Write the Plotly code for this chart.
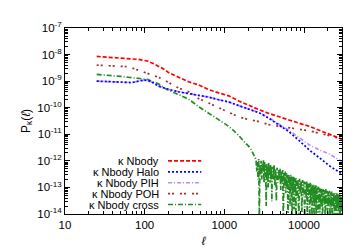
import plotly.graph_objects as go

# ---------------- data ----------------
ell_main = [25, 30, 40, 50, 62, 70, 83, 100, 111, 130, 149, 175, 200, 266, 356, 475,
            636, 850, 1135, 1516, 2030, 2710, 3630, 4850, 6470, 8700, 11600, 15600,
            20700, 30000]

p_nbody = [8.5e-9, 8.2e-9, 7.8e-9, 7.5e-9, 7.2e-9, 7.0e-9, 6.6e-9, 6.0e-9, 5.6e-9,
           4.5e-9, 3.7e-9, 2.8e-9, 2.1e-9, 1.4e-9, 9.5e-10, 7.2e-10, 4.8e-10, 3.6e-10,
           2.8e-10, 1.8e-10, 1.2e-10, 8.5e-11, 6.1e-11, 4.5e-11, 3.5e-11, 2.6e-11,
           2.0e-11, 1.4e-11, 1.0e-11, 6.5e-12]

p_halo = [1.0e-9, 9.8e-10, 9.4e-10, 8.8e-10, 8.5e-10, 8.8e-10, 1.0e-9, 1.1e-9, 1.05e-9,
          8.5e-10, 6.5e-10, 5.5e-10, 4.9e-10, 4.0e-10, 3.4e-10, 3.0e-10, 2.5e-10,
          2.0e-10, 1.65e-10, 1.2e-10, 9.0e-11, 6.5e-11, 4.0e-11, 2.3e-11, 1.25e-11,
          5.8e-12, 2.6e-12, 1.3e-12, 6.6e-13, 3.2e-13]

p_pih = [1.0e-9, 9.8e-10, 9.4e-10, 8.8e-10, 8.5e-10, 8.8e-10, 1.0e-9, 1.1e-9, 1.05e-9,
         8.5e-10, 6.5e-10, 5.5e-10, 4.9e-10, 4.0e-10, 3.4e-10, 3.0e-10, 2.5e-10,
         2.0e-10, 1.65e-10, 1.2e-10, 9.0e-11, 6.6e-11, 4.2e-11, 2.5e-11, 1.4e-11,
         7.5e-12, 4.0e-12, 2.6e-12, 1.8e-12, 9.5e-13]

p_poh = [4.0e-9, 3.9e-9, 3.8e-9, 3.7e-9, 3.5e-9, 3.1e-9, 2.6e-9, 2.2e-9, 1.9e-9,
         1.6e-9, 1.4e-9, 1.1e-9, 9.0e-10, 5.5e-10, 4.0e-10, 2.2e-10, 1.5e-10, 1.0e-10,
         6.5e-11, 4.5e-11, 3.6e-11, 3.0e-11, 2.3e-11, 2.0e-11, 1.8e-11, 1.5e-11,
         1.35e-11, 1.1e-11, 8.9e-12, 6.6e-12]

ell_cross = [25, 35, 50, 62, 80, 100, 111, 130, 149, 175, 200, 266, 356, 475, 636, 850,
             1000, 1135, 1300, 1516, 1800, 2030, 2200, 2400,
             2500, 2550, 2600, 2650, 2700, 2750, 2800, 2850, 2900, 2950,
             3000, 3050, 3100, 3150, 3200, 3250, 3300, 3350, 3400, 3450,
             3500, 3550, 3600, 3650, 3700, 3750, 3800, 3850, 3900, 3950,
             4000, 4100, 4200, 4300, 4400, 4500, 4600, 4700, 4800, 4900,
             5000, 5100, 5200, 5300, 5400, 5500, 5600, 5700, 5800, 5900,
             6000, 6100, 6200, 6300, 6400, 6500, 6600, 6700, 6800, 6900,
             7000, 7100, 7200, 7300, 7400, 7500, 7600, 7700, 7800, 7900,
             8000, 8200, 8400, 8600, 8800, 9000, 9200, 9400, 9600, 9800,
             10000, 10200, 10400, 10600, 10800, 11000, 11200, 11400, 11600, 11800,
             12000, 12200, 12400, 12600, 12800, 13000, 13200, 13400, 13600, 13800,
             14000, 14200, 14400, 14600, 14800, 15000, 15200, 15400, 15600, 15800,
             16000, 16350, 16700, 17050, 17400, 17750, 18100, 18450, 18800, 19150,
             19500, 19850, 20200, 20550, 20900, 21250, 21600, 21950, 22300, 22650,
             23000, 23350, 23700, 24050, 24400, 24750, 25100, 25450, 25800, 26150,
             26500, 26850, 27200, 27550, 27900, 28250, 28600, 28950, 29300, 29650,
             30000]

p_cross = [1.8e-9, 1.6e-9, 1.5e-9, 1.4e-9, 1.3e-9, 1.25e-9, 1.15e-9, 9.0e-10, 8.0e-10,
           5.5e-10, 4.6e-10, 3.2e-10, 2.1e-10, 1.1e-10, 6.1e-11, 3.5e-11,
           2.6e-11, 2.0e-11, 1.4e-11, 9.0e-12, 5.0e-12, 3.5e-12, 2.5e-12, 1.3e-12,
           1.1e-12, 4e-13, 9e-13, 2e-13, 1.2e-12, 5e-15, 7e-13, 3e-13, 1e-12, 2e-13,
           8e-13, 4e-13, 1.1e-12, 1.5e-13, 9e-13, 3e-13, 7e-13, 2e-14, 8e-13, 2.5e-13,
           6e-13, 1e-13, 9e-13, 3e-13, 6e-13, 1.5e-13, 7e-13, 2e-13, 5e-13, 3e-14,
           6e-13, 2e-13, 7e-13, 1.2e-13, 5e-13, 3e-14, 5.5e-13, 1.5e-13, 4.5e-13, 2e-13,
           5e-13, 8e-14, 4e-13, 1.5e-13, 4.5e-13, 5e-15, 3.5e-13, 1.2e-13, 4e-13, 6e-14,
           3.5e-13, 1e-13, 3e-13, 5e-15, 3.2e-13, 8e-14, 2.8e-13, 2e-14, 3e-13, 9e-14,
           2.6e-13, 5e-15, 2.5e-13, 6e-14, 2.7e-13, 1.5e-14, 2.3e-13, 7e-14, 2.2e-13, 5e-15,
           2.2e-13, 4e-14, 2e-13, 5e-15, 2.1e-13, 6e-14, 1.8e-13, 1.2e-14, 1.9e-13, 5e-14,
           1.7e-13, 5e-15, 1.6e-13, 4e-14, 1.7e-13, 1e-14, 1.5e-13, 5e-14, 1.4e-13, 5e-15,
           1.5e-13, 3e-14, 1.3e-13, 8e-15, 1.2e-13, 4e-14, 1.3e-13, 5e-15, 1.1e-13, 3e-14,
           1.2e-13, 1e-14, 1.1e-13, 3.5e-14, 1e-13, 5e-15, 1.05e-13, 2.5e-14, 9.5e-14, 8e-15,
           9e-14, 2e-14, 9.5e-14, 5e-15, 8.5e-14, 2.5e-14, 8e-14, 6e-15, 8.5e-14, 2e-14,
           7.5e-14, 5e-15, 7e-14, 2.2e-14, 7.5e-14, 5e-15, 6.5e-14, 1.8e-14, 7e-14, 5e-15,
           6e-14, 2e-14, 6.5e-14, 5e-15, 6e-14, 1.5e-14, 5.5e-14, 5e-15, 6e-14, 1.8e-14,
           5.5e-14, 5e-15, 5e-14, 1.5e-14, 5.5e-14, 5e-15, 5e-14, 1.2e-14, 4.5e-14, 5e-15,
           4.5e-14]

series_names = ["κ Nbody", "κ Nbody Halo", "κ Nbody PIH", "κ Nbody POH", "κ Nbody cross"]
x_tick_vals = [10, 100, 1000, 10000]
x_tick_text = ["10", "100", "1000", "10000"]
y_tick_vals = [1e-14, 1e-13, 1e-12, 1e-11, 1e-10, 1e-9, 1e-8, 1e-7]
y_tick_text = ["10<sup>-14</sup>", "10<sup>-13</sup>", "10<sup>-12</sup>", "10<sup>-11</sup>",
               "10<sup>-10</sup>", "10<sup>-9</sup>", "10<sup>-8</sup>", "10<sup>-7</sup>"]

# ---------------- styles ----------------
colors = ["#ff0000", "#0000ff", "#b88cff", "#a52a2a", "#228b22"]
dashes = ["4px,2px", "2px,2px", "4px,2px,1px,2px", "2px,2px,2px,6px", "5px,2px,1px,2px"]
FONT = "Liberation Sans, Arial, Helvetica, sans-serif"

fig = go.Figure()
xs = [ell_main, ell_main, ell_main, ell_main, ell_cross]
ys = [p_nbody, p_halo, p_pih, p_poh, p_cross]
order = [4, 3, 2, 1, 0]
for i in order:
    fig.add_trace(go.Scatter(x=xs[i], y=ys[i], mode="lines", name=series_names[i],
                             line=dict(color=colors[i], width=1.7, dash=dashes[i]),
                             showlegend=False))

# custom legend (text left, sample right, as in the reference)
row_y = [0.286, 0.227, 0.168, 0.110, 0.051]
for i, name in enumerate(series_names):
    fig.add_annotation(xref="paper", yref="paper", x=0.347, y=row_y[i], text=name,
                       showarrow=False, xanchor="right", yanchor="middle",
                       font=dict(family=FONT, size=11, color="#000000"))
    fig.add_shape(type="line", xref="paper", yref="paper", x0=0.372, x1=0.492,
                  y0=row_y[i], y1=row_y[i],
                  line=dict(color=colors[i], width=1.7, dash=dashes[i]))

axis_common = dict(showline=True, linecolor="#000000", linewidth=1, mirror="allticks",
                   ticks="inside", ticklen=5, tickcolor="#000000", showgrid=False,
                   zeroline=False, tickfont=dict(family=FONT, size=11.5, color="#000000"))

fig.update_xaxes(type="log", range=[1, 4.477], tickvals=x_tick_vals, ticktext=x_tick_text,
                 minor=dict(ticks="inside", ticklen=3, tickcolor="#000000", dtick="D1"),
                 title=dict(text="<i>ℓ</i>", font=dict(family=FONT, size=12, color="#000000"),
                            standoff=6),
                 **axis_common)
fig.update_yaxes(type="log", range=[-14, -7], tickvals=y_tick_vals, ticktext=y_tick_text,
                 minor=dict(ticks="inside", ticklen=3, tickcolor="#000000", dtick="D1"),
                 title=dict(text="P<sub>κ</sub>(<i>ℓ</i>)",
                            font=dict(family=FONT, size=12, color="#000000"), standoff=4),
                 **axis_common)

fig.update_layout(width=355, height=249, margin=dict(l=57, r=21, t=15, b=38),
                  paper_bgcolor="#ffffff", plot_bgcolor="#ffffff",
                  font=dict(family=FONT, size=11, color="#000000"))

fig.write_html("out.html")
